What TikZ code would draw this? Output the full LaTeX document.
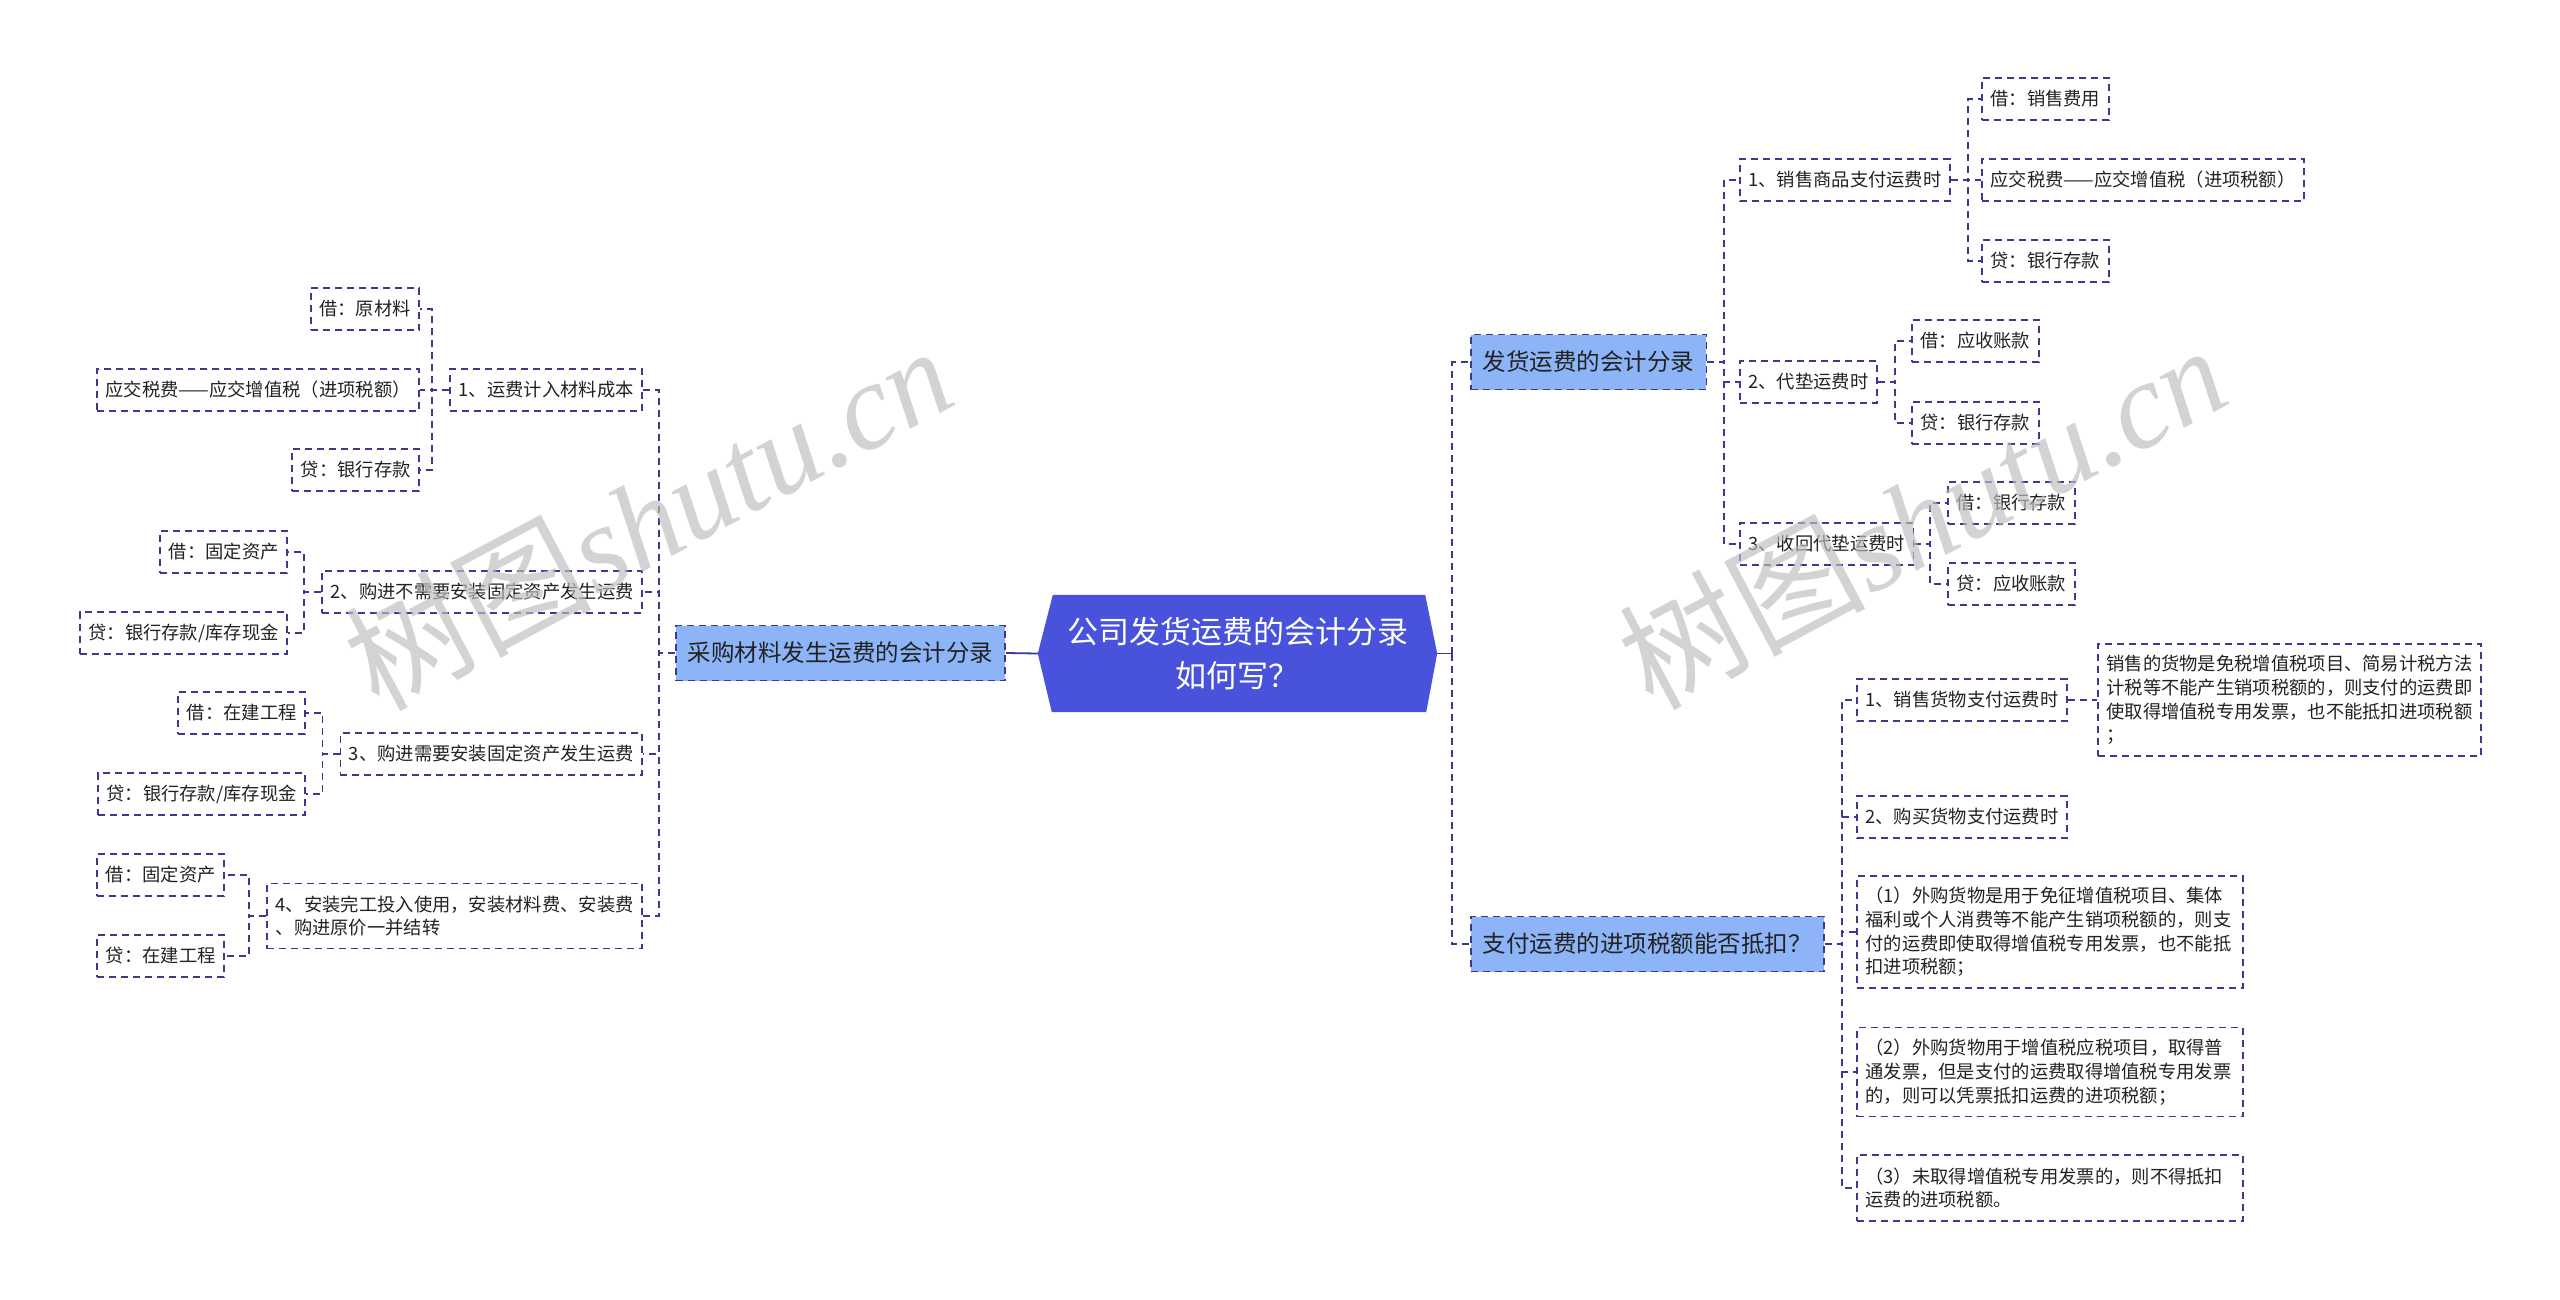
\documentclass[tikz,border=0pt]{standalone}
\usepackage{fontspec}
\setmainfont{Noto Sans CJK SC}
\newfontfamily\wmlat{Liberation Serif}
\definecolor{lineC}{RGB}{58,58,145}
\definecolor{rootC}{RGB}{72,82,218}
\definecolor{midC}{RGB}{140,180,246}
\definecolor{txtC}{RGB}{34,34,34}
\definecolor{wmC}{RGB}{190,190,190}
\pgfdeclarelayer{bg}
\pgfsetlayers{bg,main}
\begin{document}
\begin{tikzpicture}[x=1pt,y=-1pt,
  link/.style={draw=lineC,line width=1.8pt,dash pattern=on 7pt off 5pt},
  solidlink/.style={draw=lineC,line width=1.8pt},
  boxthree/.style={draw=lineC,line width=1.8pt,dash pattern=on 7pt off 5pt,text=txtC,font=\fontsize{18.3}{23.7}\selectfont,inner xsep=8.5pt,inner ysep=3pt,minimum height=42pt,align=left},
  boxtwo/.style={draw=lineC,fill=midC,line width=1.8pt,dash pattern=on 7pt off 5pt,text=txtC,font=\fontsize{23.5}{28}\selectfont,inner xsep=12pt,inner ysep=3pt,minimum height=55pt},
  wmark/.style={rotate=28,text=wmC,text opacity=0.68,font=\fontsize{123}{123}\selectfont,inner sep=0pt}
]
\useasboundingbox (0,0) rectangle (2560,1299);

% root
\node[font=\fontsize{31}{44}\selectfont,text=white,align=center,minimum width=399pt,minimum height=117pt,inner sep=0pt] (root) at (1237.5,653.5) {公司发货运费的会计分录\\如何写？};
\begin{pgfonlayer}{bg}
\fill[rootC] ([xshift=15pt]root.north west) -- ([xshift=-12pt]root.north east) -- (root.east) -- ([xshift=-11pt]root.south east) -- ([xshift=14pt]root.south west) -- (root.west) -- cycle;
\end{pgfonlayer}

% level 2
\node[boxtwo,anchor=east] (L) at (1006,653) {采购材料发生运费的会计分录};
\node[boxtwo,anchor=west] (RA) at (1470,362) {发货运费的会计分录};
\node[boxtwo,anchor=west] (RB) at (1470,944) {支付运费的进项税额能否抵扣？};

% left level 3
\node[boxthree,anchor=east] (L1) at (643,390) {1、运费计入材料成本};
\node[boxthree,anchor=east] (L2) at (643,592) {2、购进不需要安装固定资产发生运费};
\node[boxthree,anchor=east] (L3) at (643,754) {3、购进需要安装固定资产发生运费};
\node[boxthree,anchor=east,minimum height=65pt] (L4) at (643,916) {4、安装完工投入使用，安装材料费、安装费\\、购进原价一并结转};

\node[boxthree,anchor=east] (L1a) at (420,309) {借：原材料};
\node[boxthree,anchor=east] (L1b) at (420,390) {应交税费——应交增值税（进项税额）};
\node[boxthree,anchor=east] (L1c) at (420,470) {贷：银行存款};
\node[boxthree,anchor=east] (L2a) at (288,552) {借：固定资产};
\node[boxthree,anchor=east] (L2b) at (288,633) {贷：银行存款/库存现金};
\node[boxthree,anchor=east] (L3a) at (306,713) {借：在建工程};
\node[boxthree,anchor=east] (L3b) at (306,794) {贷：银行存款/库存现金};
\node[boxthree,anchor=east] (L4a) at (225,875) {借：固定资产};
\node[boxthree,anchor=east] (L4b) at (225,956) {贷：在建工程};

% right upper
\node[boxthree,anchor=west] (RA1) at (1739,180) {1、销售商品支付运费时};
\node[boxthree,anchor=west] (RA2) at (1739,382) {2、代垫运费时};
\node[boxthree,anchor=west] (RA3) at (1739,544) {3、收回代垫运费时};
\node[boxthree,anchor=west] (RA1a) at (1981,99) {借：销售费用};
\node[boxthree,anchor=west] (RA1b) at (1981,180) {应交税费——应交增值税（进项税额）};
\node[boxthree,anchor=west] (RA1c) at (1981,261) {贷：银行存款};
\node[boxthree,anchor=west] (RA2a) at (1911,341) {借：应收账款};
\node[boxthree,anchor=west] (RA2b) at (1911,423) {贷：银行存款};
\node[boxthree,anchor=west] (RA3a) at (1947,503) {借：银行存款};
\node[boxthree,anchor=west] (RA3b) at (1947,584) {贷：应收账款};

% right lower
\node[boxthree,anchor=west] (RB1) at (1856,700) {1、销售货物支付运费时};
\node[boxthree,anchor=west,minimum height=112pt] (RB1a) at (2097,700) {销售的货物是免税增值税项目、简易计税方法\\计税等不能产生销项税额的，则支付的运费即\\使取得增值税专用发票，也不能抵扣进项税额\\；};
\node[boxthree,anchor=west] (RB2) at (1856,817) {2、购买货物支付运费时};
\node[boxthree,anchor=west,minimum height=112pt,text width=369pt] (RB3) at (1856,932) {（1）外购货物是用于免征增值税项目、集体\\福利或个人消费等不能产生销项税额的，则支\\付的运费即使取得增值税专用发票，也不能抵\\扣进项税额；};
\node[boxthree,anchor=west,minimum height=89pt,text width=369pt] (RB4) at (1856,1072) {（2）外购货物用于增值税应税项目，取得普\\通发票，但是支付的运费取得增值税专用发票\\的，则可以凭票抵扣运费的进项税额；};
\node[boxthree,anchor=west,minimum height=66pt,text width=369pt] (RB5) at (1856,1188) {（3）未取得增值税专用发票的，则不得抵扣\\运费的进项税额。};

% connectors
\draw[solidlink] (root.west) -- (L.east);
\draw[solidlink] (root.east) -- ++(15pt,0) coordinate (rt);
\draw[link] (rt) |- (RA.west);
\draw[link] (rt) |- (RB.west);

\foreach \c in {L1,L2,L3,L4} \draw[link] (L.west) -- ++(-16pt,0) |- (\c.east);
\foreach \c in {L1a,L1b,L1c} \draw[link] (L1.west) -- ++(-17pt,0) |- (\c.east);
\foreach \c in {L2a,L2b} \draw[link] (L2.west) -- ++(-17pt,0) |- (\c.east);
\foreach \c in {L3a,L3b} \draw[link] (L3.west) -- ++(-17pt,0) |- (\c.east);
\foreach \c in {L4a,L4b} \draw[link] (L4.west) -- ++(-17pt,0) |- (\c.east);

\foreach \c in {RA1,RA2,RA3} \draw[link] (RA.east) -- ++(17pt,0) |- (\c.west);
\foreach \c in {RA1a,RA1b,RA1c} \draw[link] (RA1.east) -- ++(17pt,0) |- (\c.west);
\foreach \c in {RA2a,RA2b} \draw[link] (RA2.east) -- ++(17pt,0) |- (\c.west);
\foreach \c in {RA3a,RA3b} \draw[link] (RA3.east) -- ++(16pt,0) |- (\c.west);

\foreach \c in {RB1,RB2,RB3,RB4,RB5} \draw[link] (RB.east) -- ++(17pt,0) |- (\c.west);
\draw[link] (RB1.east) -- (RB1a.west);

% watermark
\node[wmark] (wmA) at (648,516) {树图{\wmlat\itshape shutu.cn}};
\node[wmark] (wmB) at (1922,515) {树图{\wmlat\itshape shutu.cn}};
\end{tikzpicture}
\end{document}
